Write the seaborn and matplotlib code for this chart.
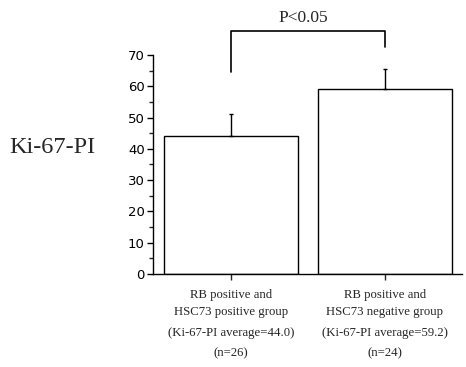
import matplotlib
matplotlib.use("Agg")
import matplotlib.pyplot as plt
import seaborn as sns
import pandas as pd
import numpy as np
from matplotlib.ticker import MultipleLocator

# ---- data ----
categories = ["RB positive and\nHSC73 positive group", "RB positive and\nHSC73 negative group"]
averages = ["(Ki-67-PI average=44.0)", "(Ki-67-PI average=59.2)"]
counts = ["(n=26)", "(n=24)"]
values = [44.0, 59.2]
errors = [7.0, 6.3]
y_ticks = [0, 10, 20, 30, 40, 50, 60, 70]
p_label = "P<0.05"
bracket_top = 77.7
bracket_left_bottom = 64.5
bracket_right_bottom = 72.6

sns.set_theme(style="ticks")
serif = ["Liberation Serif", "DejaVu Serif"]
plt.rcParams["font.family"] = ["DejaVu Sans"]

df = pd.DataFrame({"group": categories, "value": values})

fig = plt.figure(figsize=(4.66, 3.67), dpi=100)
ax = fig.add_axes([153 / 466, 93 / 367, 309 / 466, 219 / 367])

sns.barplot(data=df, x="group", y="value", ax=ax, color="white",
            edgecolor="black", linewidth=1.0, width=0.87, errorbar=None)
for p in ax.patches:
    p.set_facecolor("white")
    p.set_edgecolor("black")

xs = np.arange(len(values))
ax.errorbar(xs, values, yerr=[np.zeros(len(values)), errors], fmt="none",
            ecolor="black", elinewidth=1.0, capsize=1.6, capthick=1.0, zorder=5)

ax.set_xlim(-0.506, 1.5)
ax.set_ylim(0, 70)
ax.set_yticks(y_ticks)
ax.yaxis.set_minor_locator(MultipleLocator(5))
ax.tick_params(axis="y", which="major", length=4, width=1.0, labelsize=9.5, pad=2, colors="black")
ax.tick_params(axis="y", which="minor", length=3, width=1.0)
ax.tick_params(axis="x", length=4, width=1.0, labelsize=9)
ax.set_xticks(xs)
ax.set_xticklabels([""] * len(xs))
ax.set_xlabel("")
ax.set_ylabel("")
for s in ["top", "right"]:
    ax.spines[s].set_visible(False)
for s in ["left", "bottom"]:
    ax.spines[s].set_linewidth(1.0)
    ax.spines[s].set_color("black")

# category labels below the axis
for i in range(len(xs)):
    ax.annotate(categories[i], xy=(xs[i], 0), xycoords="data",
                xytext=(0, -11), textcoords="offset points",
                ha="center", va="top", fontsize=9.2, family=serif, linespacing=1.5)
    ax.annotate(averages[i], xy=(xs[i], 0), xycoords="data",
                xytext=(0, -38), textcoords="offset points",
                ha="center", va="top", fontsize=9.2, family=serif)
    ax.annotate(counts[i], xy=(xs[i], 0), xycoords="data",
                xytext=(0, -52.5), textcoords="offset points",
                ha="center", va="top", fontsize=9.2, family=serif)

# significance bracket
ax.plot([xs[0], xs[0], xs[1], xs[1]],
        [bracket_left_bottom, bracket_top, bracket_top, bracket_right_bottom],
        color="black", linewidth=1.2, clip_on=False)
ax.text((xs[0] + xs[1]) / 2 - 0.03, bracket_top + 1.6, p_label, ha="center", va="bottom",
        fontsize=12.5, family=serif)

fig.text(9 / 466, 1 - 148 / 367, "Ki-67-PI", ha="left", va="center",
         fontsize=17.5, family=serif)

fig.savefig("out.png", dpi=100, facecolor="white")
